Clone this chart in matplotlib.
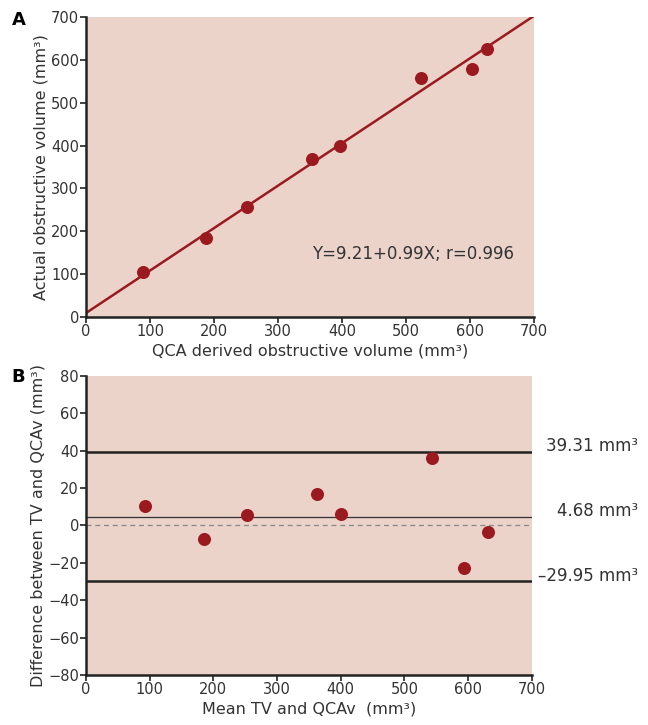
import numpy as np
import matplotlib
matplotlib.use("Agg")
import matplotlib.pyplot as plt
import matplotlib.transforms as mtransforms

# --- data ---
# panel A: QCA derived vs actual obstructive volume
qca_vol = [89.5, 187.5, 251, 354, 397, 524, 603, 627.6]
actual_vol = [105.7, 184, 257, 369, 400, 558, 579, 624.6]
fit_intercept = 9.21
fit_slope = 0.99
fit_text = "Y=9.21+0.99X; r=0.996"

# panel B: Bland-Altman
mean_vol = [93, 185, 253, 363, 401, 543.6, 594, 630.6]
diff_vol = [10.4, -7.1, 5.5, 16.6, 5.9, 36.1, -22.9, -3.6]
upper_loa = 39.31
mean_diff = 4.68
lower_loa = -29.95

ticks_x = [0, 100, 200, 300, 400, 500, 600, 700]
ticks_a_y = [0, 100, 200, 300, 400, 500, 600, 700]
ticks_b_y = [-80, -60, -40, -20, 0, 20, 40, 60, 80]

bg = "#ebd3ca"
red = "#9b1a1f"
txt = "#333333"

plt.rcParams["font.family"] = ["DejaVu Sans"]

fig = plt.figure(figsize=(6.48, 7.25), dpi=100)
ax_a = fig.add_axes([0.1327, 0.5628, 0.691, 0.4138])
ax_b = fig.add_axes([0.1327, 0.069, 0.688, 0.4124])


def style(ax):
    ax.set_facecolor(bg)
    for s in ["top", "right"]:
        ax.spines[s].set_visible(False)
    for s in ["left", "bottom"]:
        ax.spines[s].set_linewidth(1.8)
        ax.spines[s].set_color("#222222")
    ax.tick_params(direction="out", length=4, width=1.2, color="#222222",
                   labelsize=10.5, labelcolor=txt, pad=1)


# --- panel A ---
style(ax_a)
xx = np.array([0, 700])
ax_a.plot(xx, fit_intercept + fit_slope * xx, color=red, lw=1.8, zorder=2)
ax_a.scatter(qca_vol, actual_vol, s=88, color=red, zorder=3, linewidths=0)
ax_a.set_xlim(0, 700)
ax_a.set_ylim(0, 700)
ax_a.set_xticks(ticks_x)
ax_a.set_yticks(ticks_a_y)
ax_a.text(0.505, 0.21, fit_text, transform=ax_a.transAxes, fontsize=12,
          color=txt, va="center")
ax_a.set_xlabel("QCA derived obstructive volume (mm\u00b3)", fontsize=11.5,
                color=txt, labelpad=3)
ax_a.set_ylabel("Actual obstructive volume (mm\u00b3)", fontsize=11.5,
                color=txt, labelpad=2)

# --- panel B ---
style(ax_b)
ax_b.axhline(upper_loa, color="#222222", lw=1.8, zorder=2)
ax_b.axhline(lower_loa, color="#222222", lw=1.8, zorder=2)
ax_b.axhline(mean_diff, color="#333333", lw=0.9, zorder=2)
ax_b.axhline(0, color="#888888", lw=0.9, ls=(0, (4, 3)), zorder=2)
ax_b.scatter(mean_vol, diff_vol, s=88, color=red, zorder=3, linewidths=0)
ax_b.set_xlim(0, 700)
ax_b.set_ylim(-80, 80)
ax_b.set_xticks(ticks_x)
ax_b.set_yticks(ticks_b_y)
ax_b.set_yticklabels([f"{v}".replace("-", "\u2212") for v in ticks_b_y])
ax_b.set_xlabel("Mean TV and QCAv  (mm\u00b3)", fontsize=11.5, color=txt,
                labelpad=3)
ax_b.set_ylabel("Difference between TV and QCAv (mm\u00b3)", fontsize=11.5,
                color=txt, labelpad=2)

trans = mtransforms.blended_transform_factory(fig.transFigure, ax_b.transData)
for val in [upper_loa, mean_diff, lower_loa]:
    label = f"{val:.2f} mm\u00b3".replace("-", "\u2013")
    ax_b.annotate(label, xy=(0.984, val), xycoords=trans,
                  xytext=(0, 4), textcoords="offset points",
                  ha="right", va="center", fontsize=12, color=txt,
                  annotation_clip=False)

fig.text(0.018, 0.972, "A", fontsize=13, fontweight="bold", va="center")
fig.text(0.018, 0.48, "B", fontsize=13, fontweight="bold", va="center")

fig.savefig("out.png", dpi=100)
